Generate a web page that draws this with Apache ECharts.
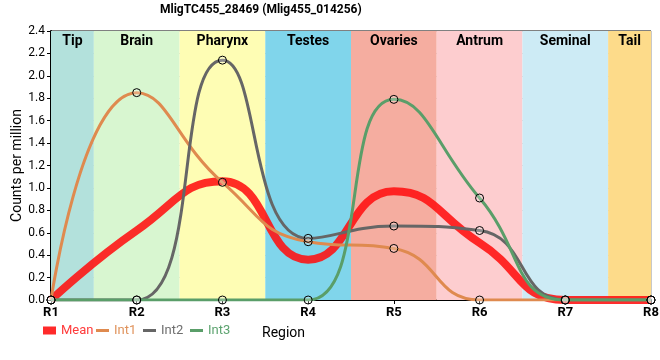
<!DOCTYPE html>
<html><head><meta charset="utf-8">
<script src="https://cdn.jsdelivr.net/npm/echarts@6/dist/echarts.min.js"></script>
<style>html,body{margin:0;padding:0;background:#fff}#c{width:660px;height:360px}</style>
</head><body><div id="c"></div>
<script>
const categories = ['R1','R2','R3','R4','R5','R6','R7','R8'];
const bandNames = ['Tip','Brain','Pharynx','Testes','Ovaries','Antrum','Seminal','Tail'];
const bandColors = ['#b3e1dc','#d8f6d0','#fefdb4','#80d5eb','#f5ada0','#fdcdcf','#cdebf5','#fddb8a'];
const bandStart = [1, 1.5, 2.5, 3.5, 4.5, 5.5, 6.5, 7.5];
const bandEnd   = [1.5, 2.5, 3.5, 4.5, 5.5, 6.5, 7.5, 8];
const int1 = [0, 1.85, 1.05, 0.52, 0.46, 0, 0, 0];
const int2 = [0, 0, 2.14, 0.55, 0.66, 0.62, 0, 0];
const int3 = [0, 0, 0, 0, 1.79, 0.91, 0, 0];
const mean = [0, 0.62, 1.06, 0.36, 0.97, 0.51, 0, 0];
const yTicks = ['0.0','0.2','0.4','0.6','0.8','1.0','1.2','1.4','1.6','1.8','2.0','2.2','2.4'];
const seriesNames = ['Mean','Int1','Int2','Int3'];
const lineColors = ['#ff2a2a','#df8a4f','#666666','#5a9e69'];
const legendTextColors = ['#ff3b3b','#e0935c','#6e6e6e','#5ca36f'];

const FONT = 'Roboto';
const pts = arr => arr.map((v, i) => [i + 1, v]);
const marker = {symbol: 'circle', symbolSize: 8, itemStyle: {color: 'rgba(255,255,255,0.25)', borderColor: '#000', borderWidth: 1}};

function intSeries(name, data, color, z) {
  return Object.assign({
    name, type: 'line', data: pts(data), smooth: 0.5, z,
    lineStyle: {color, width: 3}, showSymbol: true
  }, marker);
}

const legendLeft = [43, 96, 143, 190];
const legends = seriesNames.map((n, i) => ({
  data: [{name: n, textStyle: {color: legendTextColors[i]}, itemStyle: {color: lineColors[i], borderWidth: 0}}],
  left: legendLeft[i], top: 324, icon: 'rect', itemWidth: 13, itemHeight: i === 0 ? 8 : 3, itemGap: 4, padding: 0,
  itemStyle: {borderWidth: 0}, textStyle: {fontFamily: FONT, fontSize: 13}
}));

const chart = echarts.init(document.getElementById('c'), null, {renderer: 'canvas'});
chart.setOption({
  animation: false,
  textStyle: {fontFamily: FONT},
  title: {text: 'MligTC455_28469 (Mlig455_014256)', left: 160, top: 4, padding: 0,
    textStyle: {fontFamily: FONT, fontWeight: 'bold', fontSize: 12, color: '#000'}},
  grid: {left: 51, right: 9, top: 31, bottom: 60, show: true, borderColor: '#000', borderWidth: 1,
    backgroundColor: 'transparent', containLabel: false, outerBoundsMode: 'none'},
  legend: legends,
  xAxis: {type: 'value', min: 1, max: 8, interval: 1,
    axisLine: {lineStyle: {color: '#000', width: 2}}, axisTick: {show: true, length: 4, lineStyle: {color: '#000'}},
    splitLine: {show: true, lineStyle: {color: '#c8c8c8', width: 1}},
    axisLabel: {formatter: v => categories[v - 1], color: '#000', fontFamily: FONT, fontSize: 13, fontWeight: 'bold', margin: 6}
  },
  yAxis: {type: 'value', min: 0, max: 2.4, interval: 0.2,
    name: 'Counts per million', nameLocation: 'middle', nameGap: 27, nameMoveOverlap: false,
    nameTextStyle: {fontFamily: FONT, fontSize: 14, color: '#000'},
    axisLine: {show: true, lineStyle: {color: '#000', width: 2}}, axisTick: {show: true, length: 4, lineStyle: {color: '#000'}},
    splitLine: {show: true, lineStyle: {color: '#c8c8c8', width: 1}},
    axisLabel: {formatter: v => yTicks[Math.round(v * 5)], color: '#000', fontFamily: FONT, fontSize: 12, margin: 6}
  },
  graphic: [{type: 'text', left: 262, top: 326, style: {text: 'Region', font: '14px Roboto', fill: '#000'}}],
  series: [
    {name: 'bands', type: 'line', data: [], z: 0, silent: true,
      markArea: {silent: true, data: bandNames.map((n, i) => [
        {xAxis: bandStart[i], yAxis: 0, name: n, itemStyle: {color: bandColors[i], opacity: 1},
          label: {show: true, position: 'insideTop', distance: 3, color: '#000', fontWeight: 'bold', fontSize: 14, fontFamily: FONT}},
        {xAxis: bandEnd[i], yAxis: 2.4}])}},
    intSeries('Int1', int1, lineColors[1], 3),
    intSeries('Int2', int2, lineColors[2], 3),
    intSeries('Int3', int3, lineColors[3], 3),
    {name: 'Mean', type: 'line', data: pts(mean), smooth: 0.5, z: 2,
      showSymbol: false, symbol: 'none', itemStyle: {color: lineColors[0]},
      lineStyle: {color: 'rgba(255,16,16,0.88)', width: 8}}
  ]
});
</script></body></html>
